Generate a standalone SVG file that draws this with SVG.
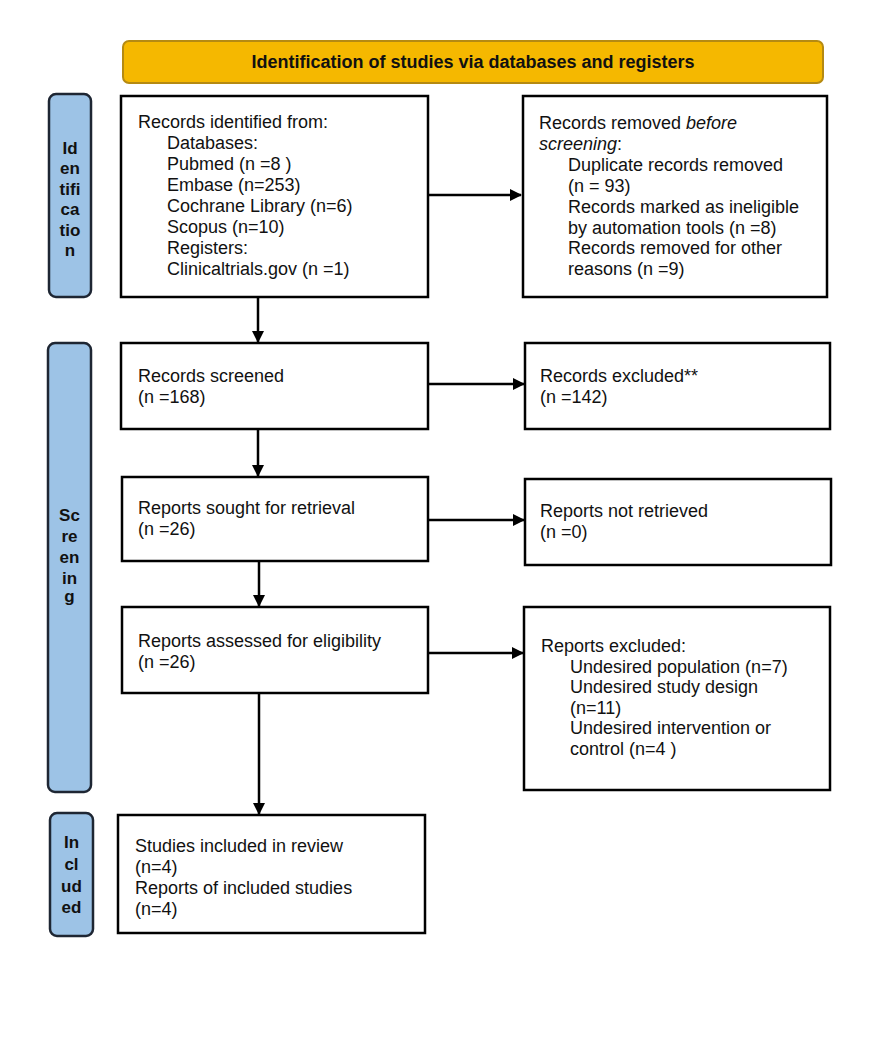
<svg xmlns="http://www.w3.org/2000/svg" width="872" height="1044" viewBox="0 0 872 1044">
<defs>
<style>
.box{fill:#fff;stroke:#000;stroke-width:2.5}
.bar{fill:#9DC3E6;stroke:#1E2633;stroke-width:2.5}
.t{font-family:"Liberation Sans",Arial,sans-serif;font-size:18px;fill:#111}
.side{font-family:"Liberation Sans",Arial,sans-serif;font-size:17px;font-weight:bold;fill:#111;text-anchor:middle}
.hdr{font-family:"Liberation Sans",Arial,sans-serif;font-size:18px;font-weight:bold;fill:#111;text-anchor:middle}
.c{stroke:#000;stroke-width:2.5;fill:none}
</style>
<marker id="ah" markerWidth="12" markerHeight="12" refX="11" refY="6" orient="auto" markerUnits="userSpaceOnUse">
<path d="M0,0 L12,6 L0,12 Z" fill="#000"/>
</marker>
</defs>
<rect width="872" height="1044" fill="#fff"/>

<g id="header">
<rect x="123" y="41" width="700" height="42" rx="6" fill="#F5B800" stroke="#B58A12" stroke-width="2"/>
<text class="hdr" x="473" y="68">Identification of studies via databases and registers</text>
</g>

<g id="bar-identification">
<rect class="bar" x="49" y="94" width="42" height="203" rx="7"/>
<text class="side" x="70" y="154">Id</text>
<text class="side" x="70" y="174">en</text>
<text class="side" x="70" y="195">tifi</text>
<text class="side" x="70" y="215">ca</text>
<text class="side" x="70" y="236">tio</text>
<text class="side" x="70" y="256">n</text>
</g>

<g id="bar-screening">
<rect class="bar" x="48" y="343" width="43" height="449" rx="7"/>
<text class="side" x="69.5" y="521">Sc</text>
<text class="side" x="69.5" y="542">re</text>
<text class="side" x="69.5" y="563">en</text>
<text class="side" x="69.5" y="584">in</text>
<text class="side" x="69.5" y="602">g</text>
</g>

<g id="bar-included">
<rect class="bar" x="50" y="813" width="43" height="123" rx="7"/>
<text class="side" x="71.5" y="848">In</text>
<text class="side" x="71.5" y="870">cl</text>
<text class="side" x="71.5" y="892">ud</text>
<text class="side" x="71.5" y="913">ed</text>
</g>

<g id="records-identified">
<rect class="box" x="121" y="96" width="307" height="201"/>
<text class="t" x="138" y="128">Records identified from:</text>
<text class="t" x="167" y="149">Databases:</text>
<text class="t" x="167" y="170">Pubmed (n =8 )</text>
<text class="t" x="167" y="191">Embase (n=253)</text>
<text class="t" x="167" y="212">Cochrane Library (n=6)</text>
<text class="t" x="167" y="233">Scopus (n=10)</text>
<text class="t" x="167" y="254">Registers:</text>
<text class="t" x="167" y="275">Clinicaltrials.gov (n =1)</text>
</g>

<g id="records-removed">
<rect class="box" x="523" y="96" width="304" height="201"/>
<text class="t" x="539" y="129">Records removed <tspan font-style="italic">before</tspan></text>
<text class="t" x="539" y="150"><tspan font-style="italic">screening</tspan>:</text>
<text class="t" x="568" y="171">Duplicate records removed</text>
<text class="t" x="568" y="192">(n = 93)</text>
<text class="t" x="568" y="213">Records marked as ineligible</text>
<text class="t" x="568" y="234">by automation tools (n =8)</text>
<text class="t" x="568" y="254">Records removed for other</text>
<text class="t" x="568" y="275">reasons (n =9)</text>
</g>

<g id="records-screened">
<rect class="box" x="121" y="343" width="307" height="86"/>
<text class="t" x="138" y="382">Records screened</text>
<text class="t" x="138" y="403">(n =168)</text>
</g>

<g id="records-excluded">
<rect class="box" x="525" y="343" width="305" height="86"/>
<text class="t" x="540" y="382">Records excluded**</text>
<text class="t" x="540" y="403">(n =142)</text>
</g>

<g id="reports-sought">
<rect class="box" x="122" y="477" width="306" height="84"/>
<text class="t" x="138" y="514">Reports sought for retrieval</text>
<text class="t" x="138" y="535">(n =26)</text>
</g>

<g id="reports-not-retrieved">
<rect class="box" x="525" y="479" width="306" height="86"/>
<text class="t" x="540" y="517">Reports not retrieved</text>
<text class="t" x="540" y="538">(n =0)</text>
</g>

<g id="reports-assessed">
<rect class="box" x="122" y="607" width="306" height="86"/>
<text class="t" x="138" y="647">Reports assessed for eligibility</text>
<text class="t" x="138" y="668">(n =26)</text>
</g>

<g id="reports-excluded">
<rect class="box" x="524" y="607" width="306" height="183"/>
<text class="t" x="541" y="652">Reports excluded:</text>
<text class="t" x="570" y="672.5">Undesired population (n=7)</text>
<text class="t" x="570" y="693">Undesired study design</text>
<text class="t" x="570" y="713.5">(n=11)</text>
<text class="t" x="570" y="734">Undesired intervention or</text>
<text class="t" x="570" y="754.5">control (n=4 )</text>
</g>

<g id="studies-included">
<rect class="box" x="118" y="815" width="307" height="118"/>
<text class="t" x="135" y="852">Studies included in review</text>
<text class="t" x="135" y="873">(n=4)</text>
<text class="t" x="135" y="894">Reports of included studies</text>
<text class="t" x="135" y="915">(n=4)</text>
</g>

<g id="connectors">
<line class="c" x1="428" y1="195" x2="521" y2="195" marker-end="url(#ah)"/>
<line class="c" x1="258" y1="297" x2="258" y2="342" marker-end="url(#ah)"/>
<line class="c" x1="428" y1="384" x2="524" y2="384" marker-end="url(#ah)"/>
<line class="c" x1="258" y1="429" x2="258" y2="476" marker-end="url(#ah)"/>
<line class="c" x1="428" y1="520" x2="524" y2="520" marker-end="url(#ah)"/>
<line class="c" x1="259" y1="561" x2="259" y2="606" marker-end="url(#ah)"/>
<line class="c" x1="428" y1="653" x2="523" y2="653" marker-end="url(#ah)"/>
<line class="c" x1="259" y1="693" x2="259" y2="814" stroke-width="1.8" marker-end="url(#ah)"/>
</g>
</svg>
